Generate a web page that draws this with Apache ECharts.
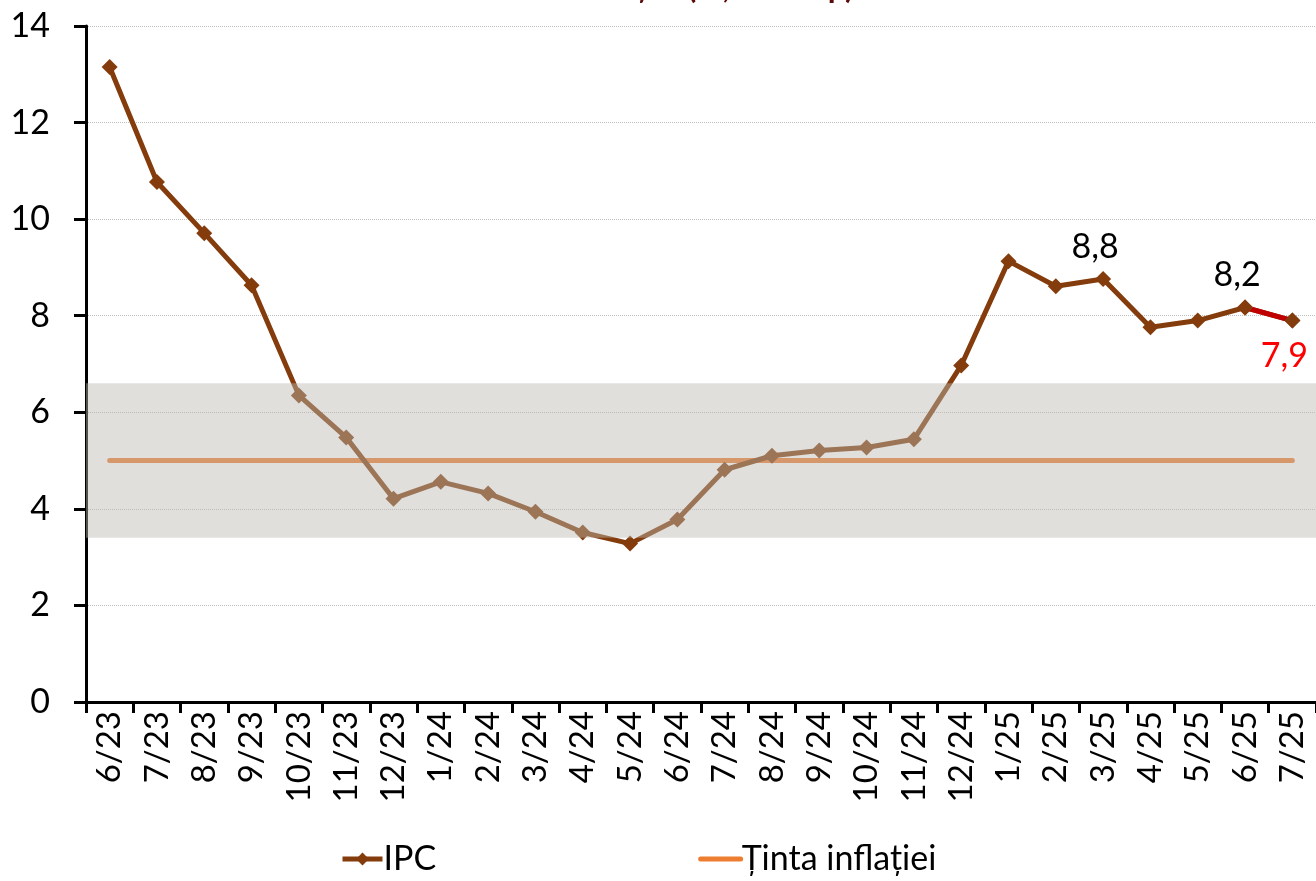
<!DOCTYPE html>
<html>
<head>
<meta charset="utf-8">
<script src="https://cdn.jsdelivr.net/npm/echarts@6/dist/echarts.min.js"></script>
<style>
  html, body { margin: 0; padding: 0; background: #fff; }
  #chart { width: 1316px; height: 881px; }
</style>
</head>
<body>
<div id="chart"></div>
<script>
  const categories = ['6/23', '7/23', '8/23', '9/23', '10/23', '11/23', '12/23', '1/24', '2/24', '3/24', '4/24', '5/24', '6/24', '7/24', '8/24', '9/24', '10/24', '11/24', '12/24', '1/25', '2/25', '3/25', '4/25', '5/25', '6/25', '7/25']
  const ipc = [13.15, 10.77, 9.71, 8.63, 6.35, 5.48, 4.21, 4.56, 4.32, 3.94, 3.51, 3.28, 3.78, 4.81, 5.10, 5.21, 5.27, 5.44, 6.97, 9.13, 8.61, 8.76, 7.76, 7.90, 8.17, 7.90]
  const target = [5, 5, 5, 5, 5, 5, 5, 5, 5, 5, 5, 5, 5, 5, 5, 5, 5, 5, 5, 5, 5, 5, 5, 5, 5, 5]
  const band = [3.4, 6.6]
  const yTicks = { min: 0, max: 14, interval: 2 }
  // points that get a value label: index -> position
  const labelled = { 21: 'top', 24: 'top', 25: 'bottom' }

  const brown = '#843C0C'
  const fontFamily = 'Lato, "Open Sans", sans-serif'
  const fmt = (v) => v.toFixed(1).replace('.', ',')

  const ipcData = ipc.map((v, i) => {
    if (!labelled[i]) return v
    const red = i === ipc.length - 1
    return {
      value: v,
      label: {
        show: true,
        position: labelled[i],
        distance: red ? 10 : 7,
        offset: [-8, 0],
        formatter: (p) => fmt(p.value),
        fontSize: 34,
        fontFamily: fontFamily,
        color: red ? '#FF0000' : '#000',
      },
    }
  })
  // last segment drawn in red
  const lastSeg = ipc.map((v, i) => (i >= ipc.length - 2 ? v : null))

  const chart = echarts.init(document.getElementById('chart'))
  const option = {
    animation: false,
    textStyle: { fontFamily: fontFamily },
    title: {
      text: 'Rata anuală a inflației (%, an/an p)',
      left: 610,
      textAlign: 'center',
      top: -33,
      textStyle: { fontSize: 32, fontWeight: 'bold', color: '#5B0A0A', fontFamily: fontFamily },
    },
    legend: {
      data: [
        { name: 'IPC' },
        { name: 'Ținta inflației', itemStyle: { opacity: 0 } },
      ],
      bottom: 0,
      left: 335,
      itemWidth: 40,
      itemHeight: 16,
      itemGap: 262,
      lineStyle: { width: 5 },
      textStyle: { fontSize: 34, color: '#000', fontFamily: fontFamily, padding: [0, 0, 0, -4] },
    },
    grid: { left: 86, right: -4, top: 26, bottom: 179 },
    xAxis: {
      type: 'category',
      data: categories,
      boundaryGap: true,
      axisLine: { lineStyle: { color: '#000', width: 3 } },
      axisTick: { show: true, length: 11, lineStyle: { color: '#000', width: 3 } },
      axisLabel: { rotate: 90, fontSize: 33, color: '#000', margin: 9, interval: 0 },
      splitLine: { show: false },
    },
    yAxis: {
      type: 'value',
      min: yTicks.min,
      max: yTicks.max,
      interval: yTicks.interval,
      axisLine: { show: true, lineStyle: { color: '#000', width: 3 } },
      axisTick: { show: true, length: 12, lineStyle: { color: '#000', width: 3 } },
      axisLabel: { fontSize: 34, color: '#000', margin: 36 },
      splitLine: { lineStyle: { color: '#BFBFBF', type: 'dotted', width: 1 } },
    },
    series: [
      {
        name: 'Ținta inflației',
        type: 'line',
        z: 1,
        data: target,
        symbol: 'none',
        lineStyle: { color: '#ED7D31', width: 5, cap: 'round' },
        itemStyle: { color: '#ED7D31' },
      },
      {
        name: 'IPC',
        type: 'line',
        z: 2,
        data: ipcData,
        symbol: 'diamond',
        symbolSize: 16,
        lineStyle: { color: brown, width: 5 },
        itemStyle: { color: brown },
      },
      {
        name: 'ultima',
        type: 'line',
        z: 3,
        data: lastSeg,
        symbol: 'diamond',
        symbolSize: 16,
        lineStyle: { color: '#C00000', width: 5 },
        itemStyle: { color: brown },
      },
      {
        name: 'interval',
        type: 'line',
        z: 10,
        data: [],
        markArea: {
          silent: true,
          z: 10,
          itemStyle: { color: 'rgba(186, 184, 178, 0.45)' },
          data: [[{ yAxis: band[0] }, { yAxis: band[1] }]],
        },
      },
    ],
  }
  chart.setOption(option)
</script>
</body>
</html>
